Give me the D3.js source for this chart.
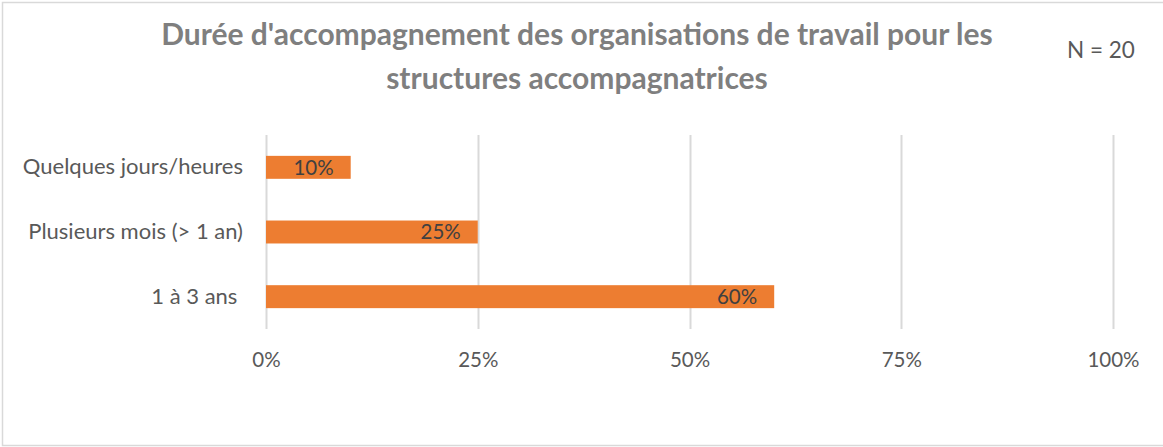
<!DOCTYPE html>
<html>
<head>
<meta charset="utf-8">
<script src="https://cdn.jsdelivr.net/npm/d3@7"></script>
<style>
  body { margin: 0; background: #fff; }
  text { font-family: Lato, "Open Sans", sans-serif; }
</style>
</head>
<body>
<svg id="svg" width="1163" height="447"></svg>
<script>
// data
var categories = ["Quelques jours/heures", "Plusieurs mois (> 1 an)", "1 à 3 ans "];
var values = [0.10, 0.25, 0.60];
var tickValues = [0, 0.25, 0.5, 0.75, 1];
var titleLines = ["Durée d'accompagnement des organisations de travail pour les", "structures accompagnatrices"];
var note = "N = 20";

var svg = d3.select("#svg");

// chart frame (right edge is cut off in the picture)
svg.append("rect")
  .attr("x", 2.5).attr("y", 2.5)
  .attr("width", 1170).attr("height", 443)
  .attr("fill", "#fff")
  .attr("stroke", "#d9d9d9")
  .attr("stroke-width", 1.5);

var x = d3.scaleLinear().domain([0, 1]).range([266, 1113]);
var y = d3.scaleBand().domain(categories).range([135, 329])
  .paddingInner(0.645).paddingOuter(0.3225);

// gridlines
svg.append("g")
  .selectAll("line")
  .data(tickValues)
  .join("line")
  .attr("x1", d => Math.round(x(d)) + 0.5)
  .attr("x2", d => Math.round(x(d)) + 0.5)
  .attr("y1", 135).attr("y2", 329)
  .attr("stroke", "#d9d9d9")
  .attr("stroke-width", 2);

// x axis labels
var xAxis = d3.axisBottom(x).tickValues(tickValues).tickSize(0).tickPadding(0)
  .tickFormat(d3.format(".0%"));
var gx = svg.append("g").attr("transform", "translate(0,352)").call(xAxis);
gx.select(".domain").remove();
gx.selectAll("text")
  .attr("font-size", 20.5)
  .attr("fill", "#595959")
  .style("font-family", "Lato, sans-serif");

// y axis labels
var yAxis = d3.axisLeft(y).tickSize(0).tickPadding(23);
var gy = svg.append("g").attr("transform", "translate(266,0)").call(yAxis);
gy.select(".domain").remove();
gy.selectAll("text")
  .attr("font-size", 22)
  .attr("fill", "#595959")
  .style("white-space", "pre")
  .style("font-family", "Lato, sans-serif");

// bars
svg.append("g")
  .selectAll("rect")
  .data(values)
  .join("rect")
  .attr("x", x(0))
  .attr("y", (d, i) => y(categories[i]))
  .attr("width", d => x(d) - x(0))
  .attr("height", y.bandwidth())
  .attr("fill", "#ed7d31");

// value labels, inside end
svg.append("g")
  .selectAll("text")
  .data(values)
  .join("text")
  .attr("x", d => x(d) - 17)
  .attr("y", (d, i) => y(categories[i]) + y.bandwidth() / 2)
  .attr("dy", "0.36em")
  .attr("text-anchor", "end")
  .attr("font-size", 20.5)
  .attr("fill", "#404040")
  .text(d => d3.format(".0%")(d));

// title
svg.append("g")
  .selectAll("text")
  .data(titleLines)
  .join("text")
  .attr("x", 577)
  .attr("y", (d, i) => 45 + i * 44)
  .attr("text-anchor", "middle")
  .attr("font-size", 30)
  .attr("font-weight", "bold")
  .attr("fill", "#7f7f7f")
  .text(d => d);

svg.append("text")
  .attr("x", 1101).attr("y", 58)
  .attr("text-anchor", "middle")
  .attr("font-size", 22.5)
  .attr("fill", "#595959")
  .text(note);
</script>
</body>
</html>
